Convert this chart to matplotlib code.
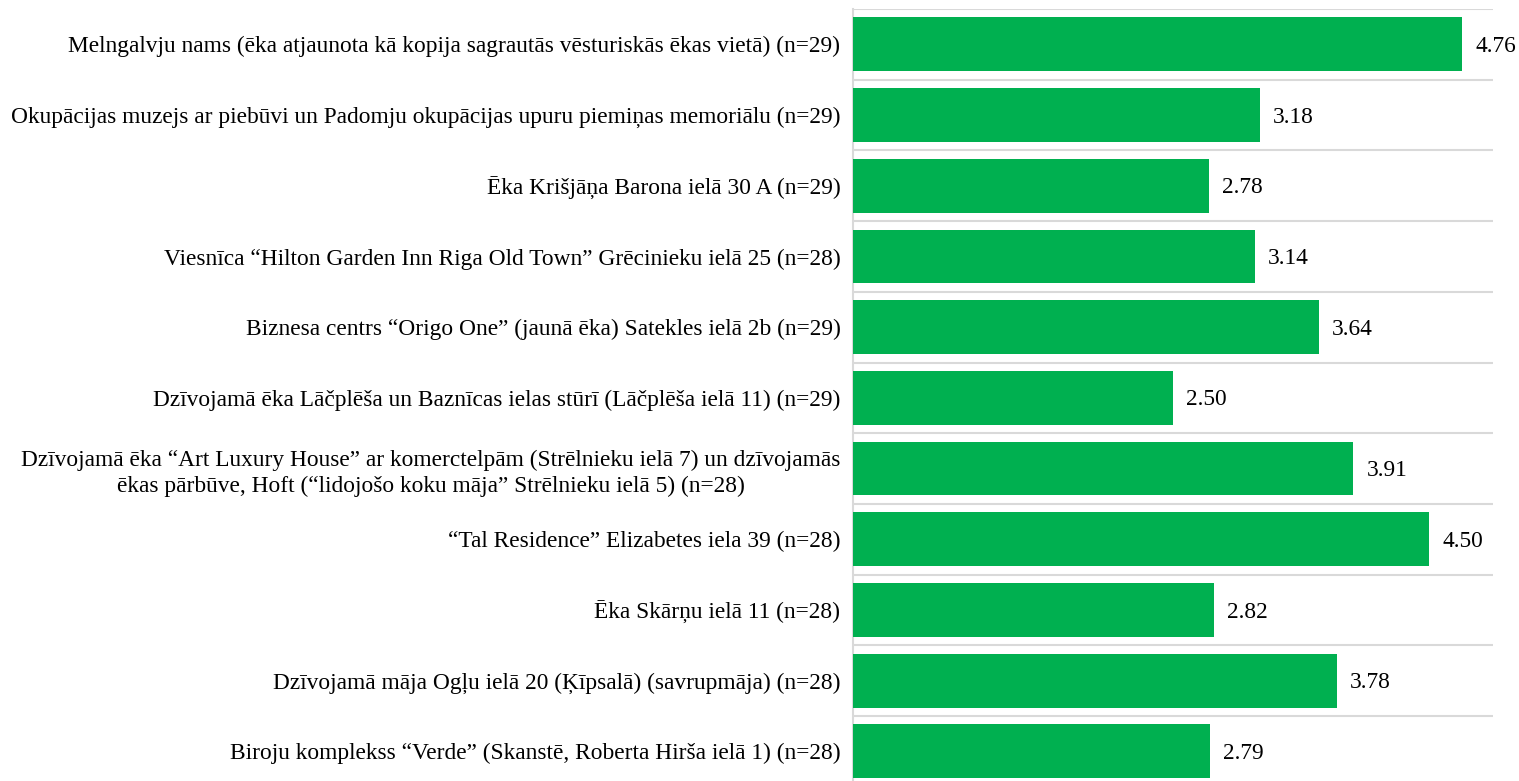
import matplotlib.pyplot as plt
from matplotlib.ticker import FixedLocator

labels = [
    "Melngalvju nams (ēka atjaunota kā kopija sagrautās vēsturiskās ēkas vietā) (n=29)",
    "Okupācijas muzejs ar piebūvi un Padomju okupācijas upuru piemiņas memoriālu (n=29)",
    "Ēka Krišjāņa Barona ielā 30 A (n=29)",
    "Viesnīca “Hilton Garden Inn Riga Old Town” Grēcinieku ielā 25 (n=28)",
    "Biznesa centrs “Origo One” (jaunā ēka) Satekles ielā 2b (n=29)",
    "Dzīvojamā ēka Lāčplēša un Baznīcas ielas stūrī (Lāčplēša ielā 11) (n=29)",
    "Dzīvojamā ēka “Art Luxury House” ar komerctelpām (Strēlnieku ielā 7) un dzīvojamās\n"
    "ēkas pārbūve, Hoft (“lidojošo koku māja” Strēlnieku ielā 5) (n=28)",
    "“Tal Residence” Elizabetes iela 39 (n=28)",
    "Ēka Skārņu ielā 11 (n=28)",
    "Dzīvojamā māja Ogļu ielā 20 (Ķīpsalā) (savrupmāja) (n=28)",
    "Biroju komplekss “Verde” (Skanstē, Roberta Hirša ielā 1) (n=28)",
]
values = [4.76, 3.18, 2.78, 3.14, 3.64, 2.50, 3.91, 4.50, 2.82, 3.78, 2.79]

plt.rcParams["font.family"] = ["Liberation Serif", "DejaVu Serif"]

W, H = 1519, 781
fig = plt.figure(figsize=(W / 100, H / 100), dpi=100)
top = 9
band = 70.7
n = len(values)
bottom = top + n * band
ax = fig.add_axes([853 / W, 1 - bottom / H, (1493 - 853) / W, (bottom - top) / H])

y = list(range(n))
ax.barh(y, values, height=0.76, color="#00B050", zorder=3)
ax.set_ylim(n - 0.5, -0.5)
ax.set_xlim(0, 5)

# value labels right of each bar
for yi, v in zip(y, values):
    ax.annotate(f"{v:.2f}", (v, yi), xytext=(9.5, -1.5), textcoords="offset points",
                va="center", ha="left", fontsize=16.8)

ax.set_yticks(y)
ax.set_yticklabels(labels, fontsize=16.8, linespacing=1.3, multialignment="center")
ax.tick_params(axis="y", length=0, pad=9)

# separators between categories
ax.yaxis.set_minor_locator(FixedLocator([i - 0.5 for i in range(n + 1)]))
ax.tick_params(axis="y", which="minor", length=0)
ax.grid(axis="y", which="minor", color="#d9d9d9", linewidth=1.5, zorder=0)
ax.set_xticks([])

for s in ["top", "right", "bottom"]:
    ax.spines[s].set_visible(False)
ax.spines["left"].set_color("#d9d9d9")
ax.spines["left"].set_linewidth(1.5)

fig.savefig("out.png", dpi=100)
